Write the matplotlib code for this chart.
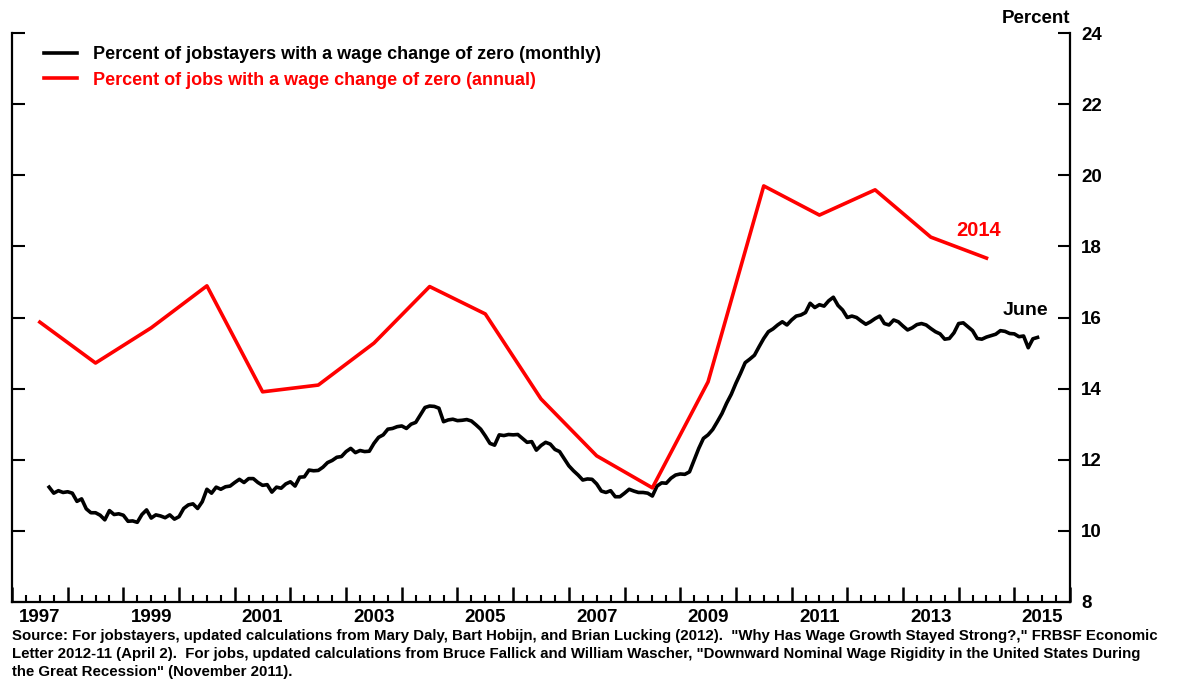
import matplotlib
matplotlib.use('Agg')
import matplotlib.pyplot as plt
import matplotlib.transforms as mtransforms
import numpy as np

plt.rcParams['font.family'] = ['Liberation Sans', 'DejaVu Sans']

# monthly series, Sep 1997 - Jun 2015
monthly_start = (1997, 9)
jobstayers = [
    11.23, 11.06, 11.13, 11.08,                                              # 1997
    11.10, 11.06, 10.83, 10.90, 10.62, 10.51, 10.51, 10.44, 10.31, 10.57, 10.46, 10.48,  # 1998
    10.44, 10.27, 10.28, 10.24, 10.46, 10.59, 10.36, 10.45, 10.42, 10.37, 10.45, 10.33,  # 1999
    10.40, 10.63, 10.73, 10.76, 10.63, 10.82, 11.17, 11.06, 11.23, 11.17, 11.24, 11.26,  # 2000
    11.36, 11.45, 11.36, 11.47, 11.47, 11.36, 11.28, 11.30, 11.09, 11.23, 11.20, 11.32,  # 2001
    11.38, 11.26, 11.51, 11.52, 11.71, 11.69, 11.70, 11.79, 11.92, 11.98, 12.07, 12.09,  # 2002
    12.23, 12.32, 12.20, 12.26, 12.23, 12.24, 12.46, 12.63, 12.70, 12.86, 12.88, 12.93,  # 2003
    12.95, 12.88, 13.00, 13.05, 13.26, 13.47, 13.51, 13.50, 13.45, 13.07, 13.12, 13.14,  # 2004
    13.10, 13.11, 13.13, 13.09, 12.98, 12.86, 12.67, 12.46, 12.41, 12.70, 12.68, 12.71,  # 2005
    12.70, 12.71, 12.60, 12.49, 12.51, 12.27, 12.40, 12.49, 12.44, 12.29, 12.23, 12.03,  # 2006
    11.83, 11.69, 11.57, 11.43, 11.46, 11.45, 11.32, 11.12, 11.08, 11.13, 10.96, 10.96,  # 2007
    11.06, 11.17, 11.12, 11.08, 11.08, 11.06, 10.98, 11.26, 11.35, 11.34, 11.48, 11.57,  # 2008
    11.60, 11.59, 11.66, 11.99, 12.32, 12.60, 12.70, 12.85, 13.07, 13.30, 13.59, 13.84,  # 2009
    14.15, 14.43, 14.73, 14.83, 14.94, 15.18, 15.41, 15.60, 15.68, 15.79, 15.88, 15.79,  # 2010
    15.93, 16.04, 16.07, 16.14, 16.40, 16.28, 16.36, 16.32, 16.47, 16.57, 16.34, 16.21,  # 2011
    16.00, 16.04, 16.00, 15.90, 15.81, 15.88, 15.97, 16.04, 15.83, 15.79, 15.93, 15.88,  # 2012
    15.76, 15.65, 15.71, 15.80, 15.83, 15.79, 15.69, 15.60, 15.54, 15.39, 15.41, 15.57,  # 2013
    15.83, 15.85, 15.74, 15.63, 15.41, 15.39, 15.45, 15.49, 15.53, 15.63, 15.61, 15.55,  # 2014
    15.54, 15.46, 15.48, 15.15, 15.40, 15.44,                                      # 2015
]

# annual series
years = list(range(1997, 2015))
jobs_annual = [15.87, 14.72, 15.71, 16.89, 13.91, 14.10, 15.28, 16.87, 16.10,
               13.71, 12.11, 11.21, 14.19, 19.70, 18.88, 19.59, 18.26, 17.67]

year_labels = [1997, 1999, 2001, 2003, 2005, 2007, 2009, 2011, 2013, 2015]
y_ticks = [8, 10, 12, 14, 16, 18, 20, 22, 24]

source = ('Source: For jobstayers, updated calculations from Mary Daly, Bart Hobijn, and Brian Lucking (2012).  '
          '"Why Has Wage Growth Stayed Strong?," FRBSF Economic\n'
          'Letter 2012-11 (April 2).  For jobs, updated calculations from Bruce Fallick and William Wascher, '
          '"Downward Nominal Wage Rigidity in the United States During\n'
          'the Great Recession" (November 2011).')

# x positions
m0 = monthly_start[0] + (monthly_start[1] - 1) / 12
x_month = m0 + np.arange(len(jobstayers)) / 12
x_year = np.array(years) + 0.5

fig = plt.figure(figsize=(11.77, 6.84), dpi=100)
ax = fig.add_axes([12 / 1177, 1 - 602 / 684, (1070 - 12) / 1177, (602 - 33) / 684])

ax.plot(x_month, jobstayers, color='black', lw=2.6,
        label='Percent of jobstayers with a wage change of zero (monthly)')
ax.plot(x_year, jobs_annual, color='#ff0000', lw=2.6,
        label='Percent of jobs with a wage change of zero (annual)')

ax.set_xlim(1997, 2016)
ax.set_ylim(8, 24)

for s in ['left', 'right', 'bottom']:
    ax.spines[s].set_linewidth(1.6)
ax.spines['top'].set_visible(False)

# y axis
ax.set_yticks(y_ticks)
ax.yaxis.set_ticks_position('both')
ax.tick_params(axis='y', direction='in', length=9, width=1.5,
               labelleft=False, labelright=True, labelsize=13.5, pad=8)
for t in ax.get_yticklabels():
    t.set_fontweight('bold')

# x axis: long ticks each year, short ones each quarter, labels mid-year
ax.set_xticks(np.arange(1997, 2017))
ax.set_xticks(np.arange(1997, 2016, 0.25), minor=True)
ax.tick_params(axis='x', which='major', direction='in', length=11, width=1.8, labelbottom=False)
ax.tick_params(axis='x', which='minor', direction='in', length=5, width=1.5)
trans = mtransforms.blended_transform_factory(ax.transData, ax.transAxes)
for yr in year_labels:
    ax.text(yr + 0.5, -0.013, str(yr), transform=trans, ha='center', va='top',
            fontsize=13.5, fontweight='bold')

ax.text(1.0, 1.01, 'Percent', transform=ax.transAxes, ha='right', va='bottom',
        fontsize=13.5, fontweight='bold')

ax.text(2014.35, 18.45, '2014', color='#ff0000', ha='center', va='center',
        fontsize=14.5, fontweight='bold')
ax.text(2015.2, 16.2, 'June', color='black', ha='center', va='center',
        fontsize=14, fontweight='bold')

leg = ax.legend(loc='upper left', bbox_to_anchor=(0.015, 1.005), frameon=False,
                handlelength=1.8, handletextpad=0.9, labelspacing=0.45,
                prop={'size': 13, 'weight': 'bold'}, labelcolor='linecolor')

fig.text(12 / 1177, 1 - 629 / 684, source, ha='left', va='top', fontsize=10.8,
         fontweight='bold', linespacing=1.35)

fig.savefig('out.png', dpi=100)
